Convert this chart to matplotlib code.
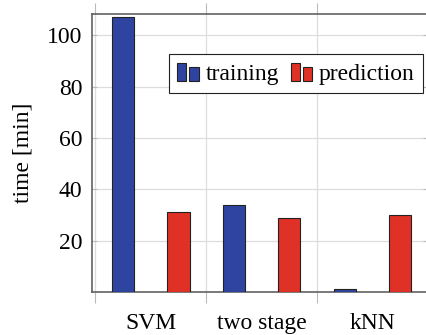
import matplotlib
matplotlib.use('Agg')
import matplotlib.pyplot as plt
from matplotlib.legend_handler import HandlerBase
from matplotlib.patches import Rectangle

methods = ['SVM', 'two stage', 'kNN']
training = [107, 34, 1.2]
prediction = [31, 29, 30]
series_names = ['training', 'prediction']
yticks = [20, 40, 60, 80, 100]

blue = '#2f44a0'
red = '#e03127'


class TwoBarHandler(HandlerBase):
    # pgfplots style ybar legend: two little bars
    def create_artists(self, legend, orig_handle, xdescent, ydescent,
                       width, height, fontsize, trans):
        fc = orig_handle.get_facecolor()
        w = width * 0.42
        r1 = Rectangle((-xdescent, -ydescent), w, height,
                       facecolor=fc, edgecolor='#222222', lw=0.8, transform=trans)
        r2 = Rectangle((-xdescent + w + width * 0.12, -ydescent), w, height * 0.78,
                       facecolor=fc, edgecolor='#222222', lw=0.8, transform=trans)
        return [r1, r2]


plt.rcParams['font.family'] = ['Liberation Serif', 'DejaVu Serif']

fig = plt.figure(figsize=(4.26, 3.35), dpi=100)
ax = fig.add_axes([92 / 426, 43 / 335, 336 / 426, 278 / 335])

x = list(range(len(methods)))
bw = 0.2
b1 = ax.bar([i - 0.25 for i in x], training, bw, color=blue,
            edgecolor='#222222', lw=0.8, label=series_names[0], zorder=3)
b2 = ax.bar([i + 0.25 for i in x], prediction, bw, color=red,
            edgecolor='#222222', lw=0.8, label=series_names[1], zorder=3)

ax.set_xlim(-0.53, 2.5)
ax.set_ylim(0, 108.3)
ax.set_yticks(yticks)
ax.set_xticks(x)
ax.set_xticklabels(methods)
ax.set_xticks([-0.5, 0.5, 1.5], minor=True)

ax.tick_params(axis='x', which='major', length=0, pad=15, labelsize=17)
ax.tick_params(axis='x', which='minor', length=8, width=0.8, color='#bbbbbb',
               direction='out', top=True, bottom=True)
ax.tick_params(axis='y', which='major', direction='in', length=3.5, width=0.8,
               color='#bbbbbb', left=True, right=True, labelsize=17, pad=7)
ax.yaxis.set_minor_locator(plt.NullLocator())

ax.grid(True, axis='y', which='major', color='#dddddd', lw=0.9, zorder=0)
ax.grid(True, axis='x', which='minor', color='#dddddd', lw=0.9, zorder=0)
ax.set_axisbelow(True)

for s in ax.spines.values():
    s.set_color('#555555')
    s.set_linewidth(1.1)

ax.set_ylabel('time [min]', fontsize=17, labelpad=10)

leg = ax.legend(handles=[b1.patches[0], b2.patches[0]], labels=series_names,
                loc='upper right', ncol=2, bbox_to_anchor=(0.985, 0.855),
                fontsize=17, handler_map={Rectangle: TwoBarHandler()},
                fancybox=False, framealpha=1, edgecolor='#222222',
                handlelength=0.95, handleheight=0.85, handletextpad=0.25,
                columnspacing=0.5, borderpad=0.35, borderaxespad=0)
leg.get_frame().set_linewidth(0.8)

fig.savefig('out.png', dpi=100)
